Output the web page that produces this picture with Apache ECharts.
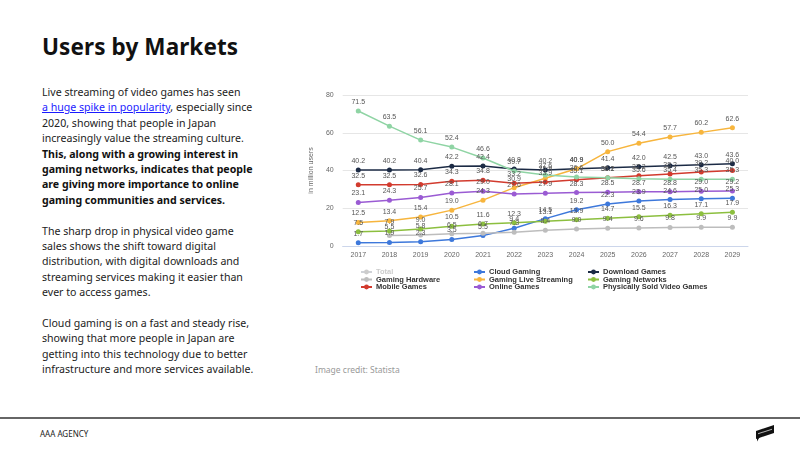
<!DOCTYPE html>
<html>
<head>
<meta charset="utf-8">
<script src="https://cdn.jsdelivr.net/npm/echarts@6/dist/echarts.min.js"></script>
<style>
  html, body { margin: 0; padding: 0; }
  body { width: 800px; height: 450px; position: relative; background: #fff; font-family: "Noto Sans", sans-serif; overflow: hidden; }
  h1 { position: absolute; left: 42px; top: 31px; margin: 0; font-size: 22.5px; font-weight: 700; color: #111; letter-spacing: 0.1px; }
  .copy { position: absolute; left: 42px; top: 85px; white-space: nowrap; font-size: 10.6px; line-height: 15.4px; color: #222; }
  .copy p { margin: 0 0 15.4px 0; }
  .copy a { color: #1a1aff; text-decoration: underline; }
  .copy b { color: #111; }
  #chart { position: absolute; left: 300px; top: 80px; width: 500px; height: 230px; }
  .credit { position: absolute; left: 315px; top: 364px; font-size: 8.5px; color: #999; }
  .rule { position: absolute; left: 0; top: 417px; width: 800px; height: 2px; background: #666; }
  .agency { position: absolute; left: 40px; top: 428px; font-size: 8px; color: #222; }
  .logo { position: absolute; left: 756px; top: 428px; width: 18px; height: 8px; background: #111; transform: skewY(-18deg); }
  .logo:before { content: ""; position: absolute; left: 2px; top: 3px; width: 14px; height: 1px; background: #fff; opacity: 0.7; }
  .logo:after { content: ""; position: absolute; left: 1px; top: 7px; border-left: 3px solid #111; border-bottom: 4px solid transparent; }
</style>
</head>
<body>
<h1>Users by Markets</h1>
<div class="copy">
  <p>Live streaming of video games has seen<br><a href="#">a huge spike in popularity</a>, especially since<br>2020, showing that people in Japan<br>increasingly value the streaming culture.<br><b>This, along with a growing interest in<br>gaming networks, indicates that people<br>are giving more importance to online<br>gaming communities and services.</b></p>
  <p>The sharp drop in physical video game<br>sales shows the shift toward digital<br>distribution, with digital downloads and<br>streaming services making it easier than<br>ever to access games.</p>
  <p>Cloud gaming is on a fast and steady rise,<br>showing that more people in Japan are<br>getting into this technology due to better<br>infrastructure and more services available.</p>
</div>
<div id="chart"></div>
<div class="credit">Image credit: Statista</div>
<div class="rule"></div>
<div class="agency">AAA AGENCY</div>
<div class="logo"></div>
<script>
const years = ['2017', '2018', '2019', '2020', '2021', '2022', '2023', '2024', '2025', '2026', '2027', '2028', '2029'];
const yTicks = [0, 20, 40, 60, 80];

const total = [];
const cloudGaming = [1.7, 1.9, 2.3, 3.5, 5.5, 9.4, 14.5, 19.2, 22.3, 23.9, 24.6, 25.0, 25.3];
const downloadGames = [40.2, 40.2, 40.4, 42.2, 42.4, 40.8, 40.2, 40.9, 41.4, 42.0, 42.5, 43.0, 43.6];
const gamingHardware = [null, 5.5, 5.8, 6.5, 6.7, 7.3, 8.4, 9.0, 9.4, 9.6, 9.8, 9.9, 9.9];
const liveStreaming = [12.5, 13.4, 15.4, 19.0, 24.3, 30.9, 35.9, 40.9, 50.0, 54.4, 57.7, 60.2, 62.6];
const gamingNetworks = [7.5, 7.9, 9.0, 10.5, 11.6, 12.3, 13.1, 13.9, 14.7, 15.5, 16.3, 17.1, 17.9];
const mobileGames = [32.5, 32.5, 32.6, 34.3, 34.8, 33.2, 33.9, 35.1, 36.2, 37.2, 38.2, 39.2, 40.0];
const onlineGames = [23.1, 24.3, 25.7, 28.1, 29.0, 27.6, 27.9, 28.3, 28.5, 28.7, 28.8, 29.0, 29.2];
const physicalGames = [71.5, 63.5, 56.1, 52.4, 46.6, 39.7, 37.6, 36.6, 36.1, 35.6, 35.4, 35.3, 35.3];

const seriesDefs = [
  ['Total', total, '#cccccc'],
  ['Cloud Gaming', cloudGaming, '#3d78db'],
  ['Download Games', downloadGames, '#1c2b45'],
  ['Gaming Hardware', gamingHardware, '#bdbdbd'],
  ['Gaming Live Streaming', liveStreaming, '#f7b53d'],
  ['Gaming Networks', gamingNetworks, '#8cbf3f'],
  ['Mobile Games', mobileGames, '#d23b2e'],
  ['Online Games', onlineGames, '#9a5bd3'],
  ['Physically Sold Video Games', physicalGames, '#8fd4a4']
];

const legendBase = {
  orient: 'vertical',
  top: 188,
  padding: 0,
  itemGap: -0.5,
  itemWidth: 11,
  itemHeight: 6,
  textStyle: { fontSize: 7.5, fontWeight: 'bold', color: '#333', lineHeight: 6, padding: [0, 0, 0, -1] },
  inactiveColor: '#cccccc'
};

const chart = echarts.init(document.getElementById('chart'));
chart.setOption({
  animation: false,
  grid: { left: 40, right: 52, top: 15, height: 151 },
  legend: [
    Object.assign({}, legendBase, { left: 60, data: ['Total', 'Gaming Hardware', 'Mobile Games'], selected: { Total: false } }),
    Object.assign({}, legendBase, { left: 173, data: ['Cloud Gaming', 'Gaming Live Streaming', 'Online Games'] }),
    Object.assign({}, legendBase, { left: 287, data: ['Download Games', 'Gaming Networks', 'Physically Sold Video Games'] })
  ],
  xAxis: {
    type: 'category',
    data: years,
    boundaryGap: true,
    axisLine: { lineStyle: { color: '#ccd6eb' } },
    axisTick: { show: false },
    axisLabel: { color: '#666', fontSize: 7, margin: 6 }
  },
  yAxis: {
    type: 'value',
    min: yTicks[0],
    max: yTicks[yTicks.length - 1],
    interval: 20,
    name: 'in million users',
    nameLocation: 'middle',
    nameGap: 17,
    nameTextStyle: { color: '#666', fontSize: 7 },
    axisLabel: { color: '#666', fontSize: 7, margin: 9 },
    splitLine: { lineStyle: { color: '#e6e6e6' } }
  },
  series: seriesDefs.map(([name, data, color]) => ({
    name: name,
    type: 'line',
    data: data,
    color: color,
    symbol: 'circle',
    symbolSize: 5,
    lineStyle: { width: 1.5 },
    label: {
      show: true,
      position: 'top',
      distance: 3,
      fontSize: 7,
      color: '#555',
      formatter: (p) => p.value == null ? '' : Number(p.value).toFixed(1)
    }
  }))
});
</script>
</body>
</html>
